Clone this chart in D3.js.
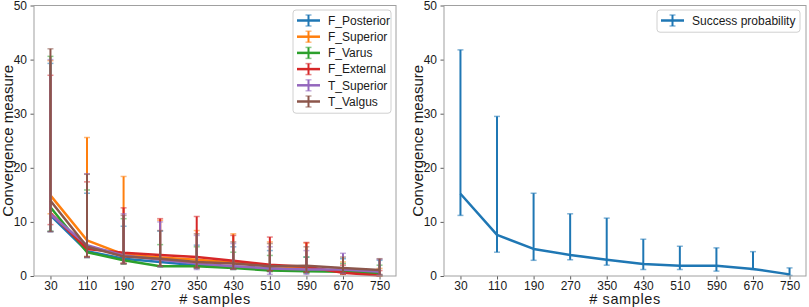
<!DOCTYPE html>
<html>
<head>
<meta charset="utf-8">
<script src="https://cdn.jsdelivr.net/npm/d3@7"></script>
<style>
  body { margin: 0; background: #fff; }
  svg text { font-family: "Liberation Sans", Arial, sans-serif; fill: #1a1a1a; }
</style>
</head>
<body>
<div id="chart"></div>
<script>
// Data
const samples = [30, 110, 190, 270, 350, 430, 510, 590, 670, 750];
const yTicks = [0, 10, 20, 30, 40, 50];

const seriesNames = ['F_Posterior', 'F_Superior', 'F_Varus', 'F_External', 'T_Superior', 'T_Valgus'];

const fPosteriorMean = [11.2, 4.6, 3.2, 2.6, 2.0, 1.7, 1.4, 1.0, 1.0, 0.6];
const fSuperiorMean  = [14.9, 6.6, 4.0, 3.4, 3.0, 2.5, 1.9, 1.5, 0.8, 0.3];
const fVarusMean     = [12.7, 4.4, 2.9, 1.8, 1.8, 1.5, 1.0, 0.9, 0.8, 0.5];
const fExternalMean  = [11.6, 5.0, 4.3, 3.9, 3.5, 2.8, 2.1, 1.7, 0.6, 0.1];
const tSuperiorMean  = [11.4, 5.7, 3.8, 3.0, 2.3, 1.8, 1.4, 1.2, 1.2, 0.8];
const tValgusMean    = [13.9, 5.4, 3.6, 3.2, 2.6, 2.3, 1.8, 1.9, 1.5, 1.1];

const fPosteriorHi = [39.3, 15.3, 9.2, 8.3, 5.7, 5.4, 4.7, 3.5, 3.2, 2.9];
const fSuperiorHi  = [39.8, 25.6, 18.4, 10.3, 8.4, 7.8, 6.3, 6.1, 2.6, 1.4];
const fVarusHi     = [40.6, 15.9, 10.6, 5.8, 5.4, 4.4, 3.8, 3.5, 2.3, 2.0];
const fExternalHi  = [37.1, 17.4, 12.6, 10.6, 11.0, 7.5, 7.2, 6.2, 2.0, 1.0];
const tSuperiorHi  = [40.0, 18.9, 11.5, 10.0, 7.5, 6.0, 5.4, 4.7, 4.2, 3.1];
const tValgusHi    = [42.0, 18.8, 11.2, 8.4, 7.8, 6.3, 6.0, 5.4, 3.5, 3.2];

const fPosteriorLo = [8.2, 3.6, 2.3, 1.8, 1.5, 1.3, 0.9, 0.6, 0.5, 0.1];
const fSuperiorLo  = [11.5, 3.6, 2.4, 1.9, 1.6, 1.3, 1.0, 0.7, 0.4, 0.0];
const fVarusLo     = [8.3, 3.4, 2.2, 1.7, 1.4, 1.2, 0.8, 0.5, 0.4, 0.1];
const fExternalLo  = [9.5, 3.5, 2.3, 1.8, 1.6, 1.3, 1.0, 0.7, 0.3, 0.0];
const tSuperiorLo  = [8.2, 3.4, 2.3, 1.7, 1.2, 1.2, 0.3, 0.3, 0.5, 0.2];
const tValgusLo    = [8.2, 3.5, 2.3, 1.8, 1.5, 1.3, 0.9, 0.7, 0.6, 0.3];

const successMean = [15.2, 7.6, 5.0, 3.9, 3.0, 2.2, 1.9, 1.9, 1.3, 0.3];
const successHi   = [41.8, 29.5, 15.3, 11.5, 10.7, 6.8, 5.5, 5.2, 4.5, 1.5];
const successLo   = [11.2, 4.4, 2.9, 3.0, 2.0, 1.2, 1.2, 0.9, 1.2, 0.1];

const colors = ['#1f77b4', '#ff7f0e', '#2ca02c', '#d62728', '#9467bd', '#8c564b'];

const leftSeries = [
  { name: seriesNames[0], mean: fPosteriorMean, hi: fPosteriorHi, lo: fPosteriorLo, color: colors[0] },
  { name: seriesNames[1], mean: fSuperiorMean,  hi: fSuperiorHi,  lo: fSuperiorLo,  color: colors[1] },
  { name: seriesNames[2], mean: fVarusMean,     hi: fVarusHi,     lo: fVarusLo,     color: colors[2] },
  { name: seriesNames[3], mean: fExternalMean,  hi: fExternalHi,  lo: fExternalLo,  color: colors[3] },
  { name: seriesNames[4], mean: tSuperiorMean,  hi: tSuperiorHi,  lo: tSuperiorLo,  color: colors[4] },
  { name: seriesNames[5], mean: tValgusMean,    hi: tValgusHi,    lo: tValgusLo,    color: colors[5] }
];
const rightSeries = [
  { name: 'Success probability', mean: successMean, hi: successHi, lo: successLo, color: colors[0] }
];

const width = 809;
const height = 307;

const svg = d3.select('#chart')
  .append('svg')
  .attr('width', width)
  .attr('height', height);

function drawPanel(left, right, series, legend) {
  const top = 5.5;
  const bottom = 276;

  const x = d3.scaleLinear().domain([-6, 786]).range([left, right]);
  const y = d3.scaleLinear().domain([0, 50]).range([bottom, top]);

  const g = svg.append('g');

  // Axes
  const xAxis = d3.axisBottom(x).tickValues(samples).tickSize(3.5).tickPadding(1.5);
  const yAxis = d3.axisLeft(y).tickValues(yTicks).tickSize(3.5).tickPadding(3.5);

  const gx = g.append('g')
    .attr('transform', `translate(0,${bottom})`)
    .call(xAxis);
  const gy = g.append('g')
    .attr('transform', `translate(${left},0)`)
    .call(yAxis);
  [gx, gy].forEach(a => {
    a.select('.domain').remove();
    a.selectAll('line').attr('stroke', '#333').attr('stroke-width', 0.8);
    a.selectAll('text').style('font-size', '12px').attr('fill', '#1a1a1a');
  });

  // Series: error bars, caps, then line
  const line = d3.line()
    .x((d, i) => x(samples[i]))
    .y(d => y(d));

  series.forEach(s => {
    const sg = g.append('g');
    sg.selectAll('.bar')
      .data(samples)
      .enter().append('line')
      .attr('x1', d => x(d))
      .attr('x2', d => x(d))
      .attr('y1', (d, i) => y(s.lo[i]))
      .attr('y2', (d, i) => y(s.hi[i]))
      .attr('stroke', s.color)
      .attr('stroke-width', 2);

    const caps = [];
    samples.forEach((d, i) => {
      caps.push({ x: d, v: s.hi[i] });
      caps.push({ x: d, v: s.lo[i] });
    });
    sg.selectAll('.cap')
      .data(caps)
      .enter().append('line')
      .attr('x1', d => x(d.x) - 3)
      .attr('x2', d => x(d.x) + 3)
      .attr('y1', d => y(d.v))
      .attr('y2', d => y(d.v))
      .attr('stroke', s.color)
      .attr('stroke-opacity', 0.55)
      .attr('stroke-width', 1.5);

    sg.append('path')
      .datum(s.mean)
      .attr('d', line)
      .attr('fill', 'none')
      .attr('stroke', s.color)
      .attr('stroke-width', 2.5)
      .attr('stroke-linejoin', 'round');
  });

  // Frame
  g.append('rect')
    .attr('x', left)
    .attr('y', top)
    .attr('width', right - left)
    .attr('height', bottom - top)
    .attr('fill', 'none')
    .attr('stroke', '#a0a0a0')
    .attr('stroke-width', 1);

  // Axis labels
  g.append('text')
    .attr('x', (left + right) / 2)
    .attr('y', 304)
    .attr('text-anchor', 'middle')
    .style('font-size', '14.5px')
    .style('letter-spacing', '0.6px')
    .text('# samples');

  g.append('text')
    .attr('transform', `translate(${left - 21.5},${(top + bottom) / 2}) rotate(-90)`)
    .attr('text-anchor', 'middle')
    .style('font-size', '15px')
    .text('Convergence measure');

  // Legend
  const lg = g.append('g');
  lg.append('rect')
    .attr('x', legend.x)
    .attr('y', legend.y)
    .attr('width', legend.w)
    .attr('height', 6 + series.length * 16.2)
    .attr('rx', 3)
    .attr('fill', 'rgba(255,255,255,0.8)')
    .attr('stroke', '#d0d0d0')
    .attr('stroke-width', 1);

  series.forEach((s, i) => {
    const cy = legend.y + 10.5 + i * 16.2;
    const hx = legend.x + 4;
    lg.append('line')
      .attr('x1', hx).attr('x2', hx + 23)
      .attr('y1', cy).attr('y2', cy)
      .attr('stroke', s.color).attr('stroke-width', 2.5);
    lg.append('line')
      .attr('x1', hx + 11.5).attr('x2', hx + 11.5)
      .attr('y1', cy - 5.5).attr('y2', cy + 5.5)
      .attr('stroke', s.color).attr('stroke-width', 2);
    [cy - 5.5, cy + 5.5].forEach(cv => {
      lg.append('line')
        .attr('x1', hx + 8.5).attr('x2', hx + 14.5)
        .attr('y1', cv).attr('y2', cv)
        .attr('stroke', s.color).attr('stroke-opacity', 0.55).attr('stroke-width', 1.5);
    });
    lg.append('text')
      .attr('x', hx + 31)
      .attr('y', cy + 4.2)
      .style('font-size', '12px')
      .text(s.name);
  });
}

drawPanel(34, 396, leftSeries, { x: 293, y: 10, w: 98 });
drawPanel(444, 806, rightSeries, { x: 657, y: 10, w: 143 });
</script>
</body>
</html>
